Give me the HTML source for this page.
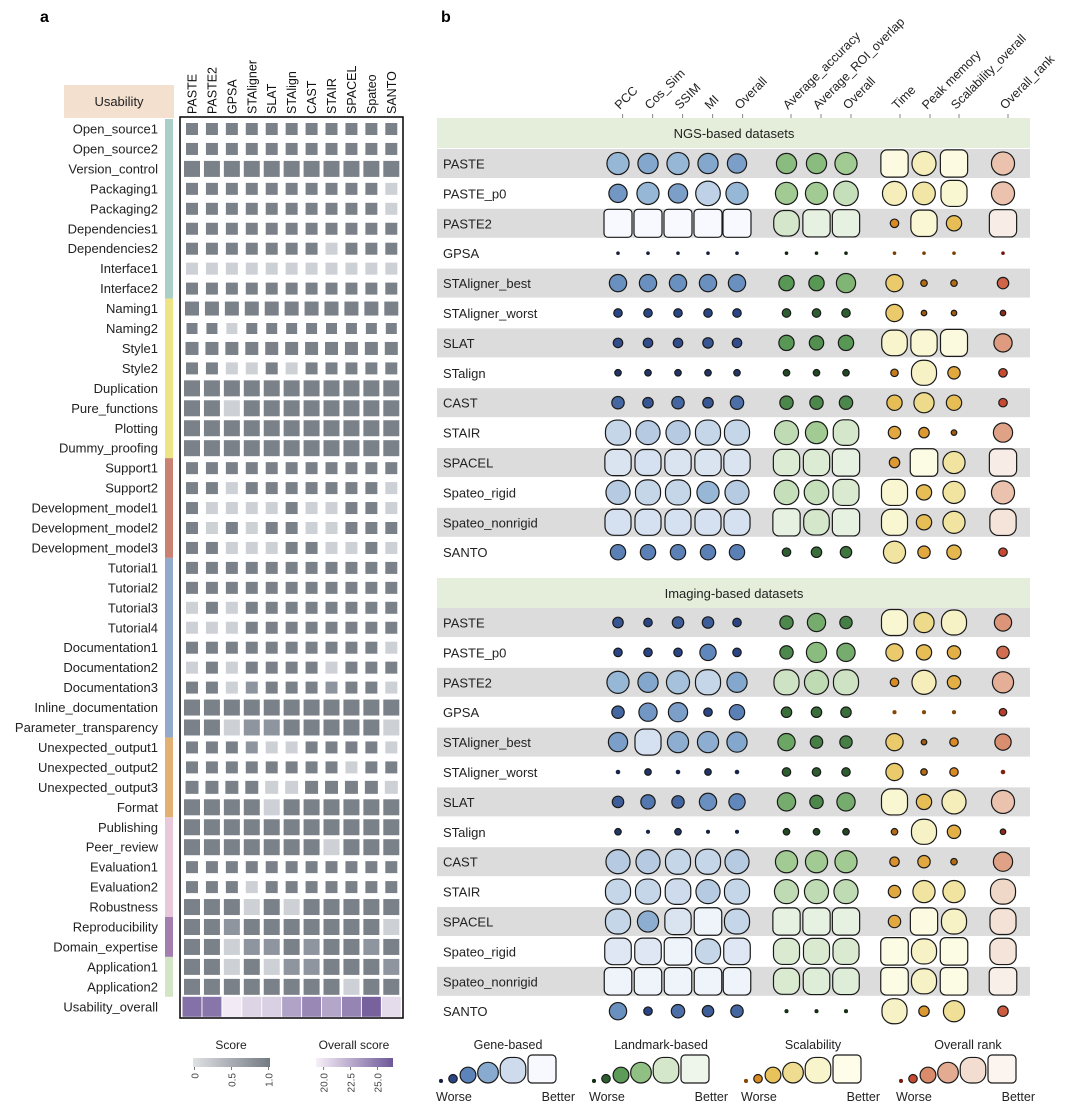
<!DOCTYPE html>
<html><head><meta charset="utf-8">
<style>
html,body{margin:0;padding:0;background:#fff;}
svg{display:block;font-family:"Liberation Sans",sans-serif;}
</style></head>
<body>
<svg id="fig" width="1080" height="1109" viewBox="0 0 1080 1109" xmlns="http://www.w3.org/2000/svg">
<text x="40" y="22" font-size="16" font-weight="bold">a</text>
<text x="441" y="22" font-size="16" font-weight="bold">b</text>
<rect x="64" y="85" width="110" height="33" fill="#f3e0ce"/>
<text x="119" y="106" font-size="13" text-anchor="middle" fill="#222">Usability</text>
<g id="ga"></g>
<g id="gb"></g>
</svg>
<script>
// ---------- Panel a data ----------
const toolsA = ["PASTE","PASTE2","GPSA","STAligner","SLAT","STAlign","CAST","STAIR","SPACEL","Spateo","SANTO"];
const criteria = ["Open_source1","Open_source2","Version_control","Packaging1","Packaging2","Dependencies1","Dependencies2","Interface1","Interface2","Naming1","Naming2","Style1","Style2","Duplication","Pure_functions","Plotting","Dummy_proofing","Support1","Support2","Development_model1","Development_model2","Development_model3","Tutorial1","Tutorial2","Tutorial3","Tutorial4","Documentation1","Documentation2","Documentation3","Inline_documentation","Parameter_transparency","Unexpected_output1","Unexpected_output2","Unexpected_output3","Format","Publishing","Peer_review","Evaluation1","Evaluation2","Robustness","Reproducibility","Domain_expertise","Application1","Application2"];
const weights = [12,12,16,12,12,12,12,12,12,14,11,13,12,16,16,16,16,12,12,12,12,12,12,12,12,12,12,12,12,16,16,12,12,13,16,16,16,12,12,16,16,16,16,16];
const scores = [
[1,1,1,1,1,1,1,1,1,1,1],[1,1,1,1,1,1,1,1,1,1,1],[1,1,1,1,1,1,1,1,1,1,1],
[1,1,1,1,1,1,1,1,1,1,0],[1,1,1,1,1,1,1,1,1,1,0],[1,1,1,1,1,1,1,1,1,1,1],
[1,1,1,1,1,1,1,0,1,1,1],[0,0,0,0,0,0,0,0,0,0,0],[1,1,1,1,1,1,1,1,1,1,1],
[1,1,1,1,1,1,1,1,1,1,1],[1,1,0,1,1,1,1,1,1,1,1],[1,1,1,1,1,1,1,1,1,1,1],
[1,1,0,0,1,0,1,1,1,1,1],[1,1,1,1,1,1,1,1,1,1,1],[1,1,0,1,1,1,1,1,1,1,1],
[1,1,1,1,1,1,1,1,1,1,1],[1,1,1,1,1,1,1,1,1,1,1],[1,1,1,1,1,1,1,1,1,1,1],
[1,1,0,1,1,1,1,1,1,1,0],[1,0,0,0,0,1,0,0,1,1,0],[1,0,1,0,1,1,0,0,1,1,1],
[1,1,0,0,0,1,1,0,0,1,0],[1,1,1,1,1,1,1,1,1,1,1],[1,1,1,1,1,1,1,1,1,1,1],
[0,1,0,1,1,1,1,1,1,1,1],[0,0,0,1,1,1,1,1,1,1,1],[1,1,1,1,1,1,1,1,1,1,0],
[0,1,0,1,1,1,1,0,1,1,1],[1,1,0,0.5,1,1,1,0.5,1,1,0],[1,1,1,1,1,1,1,1,1,1,1],
[1,1,0,0.5,0.5,1,1,1,1,1,0],[1,1,1,0.5,0,0,1,1,1,1,0],[1,1,1,1,1,1,1,1,0,1,1],
[1,1,1,1,0,0,1,1,1,1,0],[1,1,1,1,0,1,1,1,1,1,1],[1,1,1,1,1,1,1,1,1,1,1],
[1,1,1,1,1,1,1,0,1,1,1],[1,1,1,1,1,1,1,1,1,1,1],[1,1,1,0,1,1,1,1,1,1,1],
[1,1,1,0,1,0,1,1,1,1,1],[1,1,0.5,1,1,1,1,1,1,1,0],[1,1,0,0.5,0.5,1,0.5,1,1,0.5,1],
[1,1,0,1,0,0.5,0.5,1,1,1,0.5],[1,1,1,1,1,1,1,1,0,1,1]];
const overallScores = [25.2,25.0,18.8,20.0,20.2,22.6,24.0,22.4,24.2,26.0,19.6];
const groupRanges = [[0,8,"#a9cfc6"],[9,16,"#efe485"],[17,21,"#c98272"],[22,30,"#93aaca"],[31,34,"#e2b070"],[35,39,"#e8c9dc"],[40,41,"#a37fb0"],[42,43,"#d4e5c6"]];

// ---------- Panel b data ----------
const metrics = ["PCC","Cos_Sim","SSIM","MI","Overall","Average_accuracy","Average_ROI_overlap","Overall","Time","Peak memory","Scalability_overall","Overall_rank"];
const metricGroup = [0,0,0,0,0,1,1,1,2,2,2,3];
const ngsMethods = ["PASTE","PASTE_p0","PASTE2","GPSA","STAligner_best","STAligner_worst","SLAT","STalign","CAST","STAIR","SPACEL","Spateo_rigid","Spateo_nonrigid","SANTO"];
const imgMethods = ["PASTE","PASTE_p0","PASTE2","GPSA","STAligner_best","STAligner_worst","SLAT","STalign","CAST","STAIR","SPACEL","Spateo_rigid","Spateo_nonrigid","SANTO"];
const ngsValues = [
[.76,.68,.76,.68,.64,.68,.68,.76,.97,.84,.97,.8],
[.6,.76,.64,.86,.76,.76,.76,.86,.84,.78,.92,.8],
[1,1,1,1,1,.9,.97,.97,.2,.93,.48,.97],
[0,0,0,0,0,0,0,0,0,0,0,0],
[.56,.56,.56,.56,.56,.48,.48,.64,.56,.12,.12,.32],
[.2,.2,.2,.2,.2,.2,.2,.2,.56,.08,.08,.08],
[.24,.24,.24,.28,.24,.48,.44,.48,.9,.93,.96,.6],
[.12,.12,.12,.12,.12,.12,.12,.12,.16,.88,.36,.2],
[.36,.28,.36,.28,.4,.4,.4,.4,.48,.68,.48,.2],
[.88,.84,.84,.88,.88,.84,.76,.9,.36,.28,.08,.64],
[.93,.92,.93,.93,.93,.93,.93,.97,.28,.98,.76,.97],
[.84,.88,.88,.76,.84,.86,.86,.92,.92,.48,.76,.8],
[.92,.92,.92,.92,.92,.97,.9,.97,.92,.48,.76,.93],
[.48,.48,.48,.48,.48,.2,.28,.32,.76,.36,.44,.2]];
const imgValues = [
[.28,.2,.32,.32,.2,.4,.6,.36,.92,.68,.88,.56],
[.2,.2,.2,.52,.2,.4,.68,.6,.56,.48,.4,.36],
[.76,.68,.8,.88,.68,.88,.84,.88,.2,.84,.4,.72],
[.36,.6,.64,.2,.48,.28,.28,.28,.02,.02,.02,.16],
[.64,.92,.72,.72,.68,.56,.36,.36,.56,.08,.2,.52],
[.04,.12,.04,.12,.04,.2,.2,.2,.56,.12,.2,.04],
[.32,.44,.36,.56,.52,.6,.4,.6,.92,.48,.84,.8],
[.12,.02,.12,.02,.02,.12,.12,.12,.12,.88,.4,.08],
[.84,.84,.88,.88,.84,.76,.76,.76,.24,.36,.12,.64],
[.88,.88,.9,.84,.88,.84,.84,.84,.36,.76,.76,.88],
[.88,.72,.93,.98,.88,.97,.97,.97,.36,.97,.88,.92],
[.94,.94,.98,.88,.94,.92,.92,.92,.98,.88,.98,.93],
[.98,.98,.98,.98,.98,.92,.94,.94,.98,.88,.98,.98],
[.56,.2,.4,.32,.36,.02,.02,.02,.88,.28,.72,.28]];
const legendTitles = ["Gene-based","Landmark-based","Scalability","Overall rank"];
const legendValues = [0.02,0.2,0.5,0.7,0.9,1];

const NS="http://www.w3.org/2000/svg";
function mk(tag, attrs, parent){const e=document.createElementNS(NS,tag);for(const k in attrs)e.setAttribute(k,attrs[k]);parent.appendChild(e);return e;}
const ga=document.getElementById('ga'), gb=document.getElementById('gb');

const xa = i => 192 + i*19.93;
const ya = r => 129 + r*19.95;
function scoreColor(s){ if(s>=0.75) return "#7b8189"; if(s>=0.25) return "#8f959e"; return "#cdd0d5"; }
function purple(v){const t=Math.max(0,Math.min(1,(v-18.5)/(26.5-18.5)));
  const a=[247,240,248],b=[110,88,152];return `rgb(${a.map((c,i)=>Math.round(c+(b[i]-c)*t)).join(',')})`;}

toolsA.forEach((t,i)=>{
  const tx=mk('text',{x:0,y:0,transform:`translate(${xa(i)+4.5},114) rotate(-90)`,'font-size':12.5,fill:'#111'},ga);
  tx.textContent=t;
  
  
});
groupRanges.forEach((g,k)=>{
  const r=mk('rect',{x:165,y:ya(g[0])-10,width:8,height:(g[1]-g[0]+1)*19.95,fill:g[2]},ga);
  
  
});
criteria.forEach((c,r)=>{
  const lb=mk('text',{x:158,y:ya(r)+4.5,'font-size':13,'text-anchor':'end',fill:'#222'},ga);
  lb.textContent=c;
  
  
  const s=weights[r];
  scores[r].forEach((v,i)=>{
    const q=mk('rect',{x:xa(i)-s/2,y:ya(r)-s/2,width:s,height:s,fill:scoreColor(v)},ga);
    
    
  });
});
const lbo=mk('text',{x:158,y:ya(44)+4.5,'font-size':13,'text-anchor':'end',fill:'#222'},ga);
lbo.textContent="Usability_overall";


overallScores.forEach((v,i)=>{
  const q=mk('rect',{x:xa(i)-9.5,y:ya(44)-10,width:19,height:20,fill:purple(v)},ga);
  
  
});
const box=mk('rect',{x:180,y:117,width:223,height:901,fill:'none',stroke:'#111','stroke-width':1.6},ga);



function gradLegend(id,x,title,c0,c1,ticks,tickPos){
  const defs=mk('defs',{},ga);
  const lg=mk('linearGradient',{id:id,x1:0,x2:1,y1:0,y2:0},defs);
  mk('stop',{offset:0,'stop-color':c0},lg);mk('stop',{offset:1,'stop-color':c1},lg);
  const t=mk('text',{x:x+38,y:1049,'font-size':12,'text-anchor':'middle',fill:'#222'},ga);t.textContent=title;
  
  
  const r=mk('rect',{x:x,y:1058,width:77,height:9,fill:`url(#${id})`},ga);
  
  
  ticks.forEach((tk,k)=>{
    const px=x+tickPos[k]*77;
    mk('line',{x1:px,x2:px,y1:1067,y2:1070,stroke:'#555','stroke-width':0.8},ga);
    const tt=mk('text',{x:0,y:0,transform:`translate(${px+4},1073) rotate(-90)`,'font-size':10,'text-anchor':'end',fill:'#444'},ga);
    tt.textContent=tk;
    
    
  });
}
gradLegend('gs',193,'Score','#dfe1e4','#747a83',['0','0.5','1.0'],[0.02,0.5,0.98]);
gradLegend('go',316,'Overall score','#f7f0f8','#6e5898',['20.0','22.5','25.0'],[0.1,0.45,0.8]);

// ---------- panel b ----------
const xb = c => [618,648,678,708,737,786.5,816.5,846,894.5,924,954,1003][c];
const yNgs = r => 163.5 + r*29.9;
const yImg = r => 622.5 + r*29.9;
const tickX=[622.7,652.7,682.7,712.7,742.7,791,821,851,900,930,959,1008];
const stopPos=[0,0.2,0.5,0.75,0.9,1];
const pal=[
 ["#141c3a","#2a4585","#5d84ba","#93b4d4","#cddbec","#f7f9fe"],
 ["#10260f","#2d5e30","#5c9b58","#9dc98e","#d4e7cb","#eef5ea"],
 ["#7a3e02","#d98a22","#e8c25a","#f1e39e","#f8f4cc","#fdfdea"],
 ["#6e150c","#c84a30","#d98b6c","#e6b49c","#f2ddd0","#fbf4ef"]];
function hex(h){return [1,3,5].map(i=>parseInt(h.substr(i,2),16));}
function colorFor(g,v){const p=pal[g];v=Math.max(0,Math.min(1,v));let i=0;while(i<4&&v>stopPos[i+1])i++;
  const f=(v-stopPos[i])/(stopPos[i+1]-stopPos[i]);
  const a=hex(p[i]),b=hex(p[i+1]);return `rgb(${a.map((c,k)=>Math.round(c+(b[k]-c)*f)).join(',')})`;}
function sizeFor(v){return 3.6+24.4*v;}
function rxFor(v,s){ if(v<0.86) return s/2; const f=Math.min(1,(v-0.86)/0.14); return s/2-f*(s/2-4);}
function drawMark(cx,cy,g,v,name){
  const s=sizeFor(v), rx=rxFor(v,s);
  const m=mk('rect',{x:cx-s/2,y:cy-s/2,width:s,height:s,rx:rx,ry:rx,fill:colorFor(g,v),stroke:'#1a1a1a','stroke-width':v<0.06?0:1.2},gb);
  
  
}
metrics.forEach((m,c)=>{
  mk('line',{x1:tickX[c],x2:tickX[c],y1:114,y2:119,stroke:'#666','stroke-width':0.8},gb);
  const t=mk('text',{x:0,y:0,transform:`translate(${tickX[c]-3},110) rotate(-45)`,'font-size':12.5,fill:'#222'},gb);
  t.textContent=m;
  
  
});
function section(top,title,methods,values,yf,key){
  const h=mk('rect',{x:437,y:top,width:593,height:30,fill:'#e4eedb'},gb);
  
  
  const ht=mk('text',{x:734,y:top+20,'font-size':13,'text-anchor':'middle',fill:'#222'},gb);
  ht.textContent=title;
  
  
  methods.forEach((m,r)=>{
    if(r%2===0){const b=mk('rect',{x:437,y:yf(r)-14.5,width:593,height:29,fill:'#dcdcdc'},gb);
      
      }
    const t=mk('text',{x:443,y:yf(r)+5,'font-size':13,fill:'#222'},gb);
    t.textContent=m;
    
    
  });
  methods.forEach((m,r)=>{
    values[r].forEach((v,c)=>drawMark(xb(c),yf(r),metricGroup[c],v,key+'-mark'));
  });
}
section(118,"NGS-based datasets",ngsMethods,ngsValues,yNgs,'ngs');
section(578,"Imaging-based datasets",imgMethods,imgValues,yImg,'imaging');

const legCenters=[441,453,468,488,513,542];
const legOffsets=[0,153,305,460];
legendTitles.forEach((tt,g)=>{
  const o=legOffsets[g];
  const t=mk('text',{x:508+o,y:1049,'font-size':12.5,'text-anchor':'middle',fill:'#222'},gb);
  t.textContent=tt;
  
  
  legendValues.forEach((v,k)=>{
    const s=sizeFor(v);
    drawMark(legCenters[k]+o,1083-s/2,g,v,'size-legend-mark');
  });
  const w=mk('text',{x:436+o,y:1101,'font-size':12.5,fill:'#222'},gb);
  w.textContent="Worse";
  
  
  const b=mk('text',{x:575+o,y:1101,'font-size':12.5,'text-anchor':'end',fill:'#222'},gb);
  b.textContent="Better";
  
  
});
</script>
</body></html>
